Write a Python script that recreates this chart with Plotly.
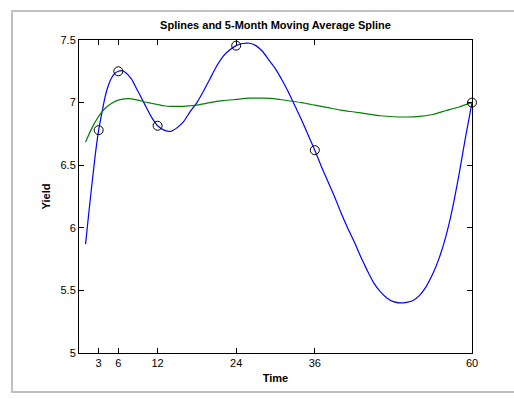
import plotly.graph_objects as go

# Observed yields
obs_time = [3, 6, 12, 24, 36, 60]
obs_yield = [6.78, 7.25, 6.815, 7.455, 6.62, 7.00]

spline_time = [1, 1.5, 2, 2.5, 3, 3.5, 4, 4.5, 5, 5.5, 6, 6.5, 7, 8, 9, 10, 11, 12,
               13, 14, 15, 16, 17, 18, 19, 20, 21, 22, 23, 24, 25, 26, 27, 28, 29, 30,
               31, 32, 33, 34, 35, 36, 37, 38, 39, 40, 41, 42, 43, 44, 45, 46, 47, 48,
               49, 50, 51, 52, 53, 54, 55, 56, 57, 58, 59, 60]
spline_yield = [5.87, 6.12, 6.36, 6.59, 6.78, 6.92, 7.05, 7.14, 7.20, 7.235, 7.25, 7.255,
                7.245, 7.19, 7.09, 6.99, 6.89, 6.815, 6.78, 6.77, 6.80, 6.85, 6.93, 7.00,
                7.09, 7.19, 7.29, 7.37, 7.42, 7.455, 7.472, 7.474, 7.455, 7.41, 7.34, 7.27,
                7.18, 7.08, 6.97, 6.86, 6.74, 6.62, 6.49, 6.37, 6.25, 6.12, 6.00, 5.89,
                5.77, 5.66, 5.56, 5.49, 5.44, 5.41, 5.40, 5.405, 5.42, 5.46, 5.53, 5.63,
                5.76, 5.93, 6.15, 6.42, 6.72, 7.00]

# 5-month moving average spline
ma_time = [1, 2, 3, 4, 5, 6, 7, 8, 9, 10, 11, 12, 13, 14, 15, 16, 17, 18, 19, 20,
           22, 24, 26, 28, 30, 32, 34, 36, 38, 40, 42, 44, 46, 48, 50, 52, 54, 56, 58, 60]
ma_yield = [6.685, 6.80, 6.89, 6.955, 6.995, 7.02, 7.03, 7.03, 7.02, 7.005, 6.995,
            6.985, 6.975, 6.97, 6.97, 6.97, 6.975, 6.98, 6.99, 7.0, 7.015, 7.025, 7.035,
            7.035, 7.03, 7.015, 7.0, 6.98, 6.96, 6.94, 6.925, 6.91, 6.895, 6.887, 6.885,
            6.89, 6.905, 6.935, 6.965, 7.0]

x_ticks = [3, 6, 12, 24, 36, 60]
y_ticks = [5, 5.5, 6, 6.5, 7, 7.5]
y_tick_text = ["5", "5.5", "6", "6.5", "7", "7.5"]

FONT = "Liberation Sans, Arial, Helvetica, sans-serif"

fig = go.Figure()
fig.add_trace(go.Scatter(x=spline_time, y=spline_yield, mode="lines",
                         line=dict(color="#0000ff", width=1.2, shape="spline", smoothing=0.6),
                         showlegend=False))
fig.add_trace(go.Scatter(x=ma_time, y=ma_yield, mode="lines",
                         line=dict(color="#008000", width=1.2, shape="spline", smoothing=0.6),
                         showlegend=False))
fig.add_trace(go.Scatter(x=obs_time, y=obs_yield, mode="markers",
                         marker=dict(symbol="circle-open", size=9, color="black",
                                     line=dict(width=1, color="black")),
                         showlegend=False, cliponaxis=False))

axis_common = dict(showgrid=False, zeroline=False, showline=True, linecolor="black",
                   linewidth=1, mirror="ticks", ticks="inside", ticklen=5,
                   tickcolor="black", tickfont=dict(family=FONT, size=11, color="black"))

fig.update_xaxes(range=[0, 60], tickvals=x_ticks, ticktext=[str(v) for v in x_ticks],
                 title=dict(text="<b>Time</b>", font=dict(family=FONT, size=11, color="black"),
                            standoff=6),
                 **axis_common)
fig.update_yaxes(range=[5, 7.5], tickvals=y_ticks, ticktext=y_tick_text,
                 title=dict(text="<b>Yield</b>", font=dict(family=FONT, size=11, color="black"),
                            standoff=7),
                 **axis_common)

# light grey figure frame
L, R, T, B = 79, 42, 40, 46
W, H = 514, 399
pw, ph = W - L - R, H - T - B
def px(xp):
    return (xp - L) / pw
def py(yp):
    return (H - B - yp) / ph

fig.add_shape(type="rect", xref="paper", yref="paper",
              x0=px(12), x1=px(530), y0=py(392), y1=py(11),
              line=dict(color="#c0c0c0", width=2), fillcolor="rgba(0,0,0,0)", layer="below")

fig.update_layout(
    width=W, height=H,
    margin=dict(l=L, r=R, t=T, b=B),
    paper_bgcolor="white", plot_bgcolor="white",
    title=dict(text="<b>Splines and 5-Month Moving Average Spline</b>",
               font=dict(family=FONT, size=11, color="black"),
               x=px(275.5), xref="paper", xanchor="center",
               y=1 - 25 / H, yref="container", yanchor="middle"),
    font=dict(family=FONT, size=11, color="black"),
)

fig.write_html("out.html")
